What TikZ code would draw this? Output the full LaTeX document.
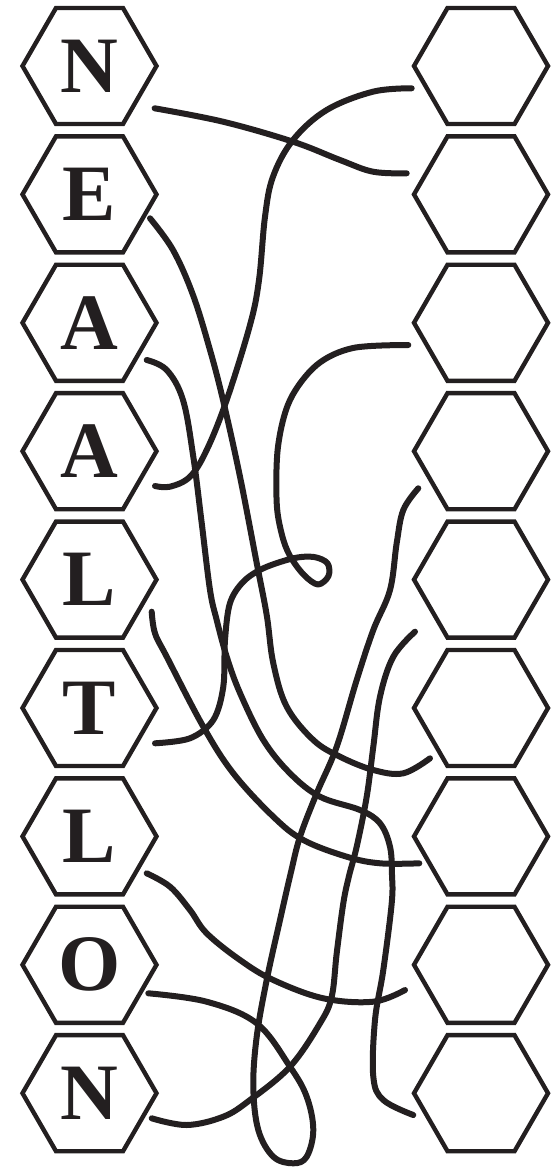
\documentclass[tikz,border=0pt]{standalone}
\usepackage{fontspec}
\setmainfont{Liberation Serif}
\usepackage{tikz}
\usetikzlibrary{shapes.geometric}
\definecolor{ink}{HTML}{231F20}

\begin{document}
\begin{tikzpicture}[
  x=1pt, y=-1pt,
  hexcell/.style={regular polygon, regular polygon sides=6, minimum size=134pt,
                  inner sep=0pt, draw=ink, line width=4.4pt, text=ink,
                  font=\fontsize{80}{80}\selectfont\bfseries},
  wire/.style={draw=ink, line width=6pt, line cap=round, line join=round},
]
\useasboundingbox (0,0) rectangle (552,1169);
% ---- letter column (left)
\node[hexcell] (n1) at (89.5, 66.0) {N};
\node[hexcell] (e2) at (89.5, 194.4) {E};
\node[hexcell] (a3) at (89.5, 322.8) {A};
\node[hexcell] (a4) at (89.5, 451.2) {A};
\node[hexcell] (l5) at (89.5, 579.6) {L};
\node[hexcell] (t6) at (89.5, 708.0) {T};
\node[hexcell] (l7) at (89.5, 836.4) {L};
\node[hexcell] (o8) at (89.5, 964.8) {O};
\node[hexcell] (n9) at (89.5, 1093.2) {N};
% ---- answer column (right), left empty
\node[hexcell] (s1) at (481, 66.0) {};
\node[hexcell] (s2) at (481, 194.4) {};
\node[hexcell] (s3) at (481, 322.8) {};
\node[hexcell] (s4) at (481, 451.2) {};
\node[hexcell] (s5) at (481, 579.6) {};
\node[hexcell] (s6) at (481, 708.0) {};
\node[hexcell] (s7) at (481, 836.4) {};
\node[hexcell] (s8) at (481, 964.8) {};
\node[hexcell] (s9) at (481, 1093.2) {};
% ---- loose ends of the strings
\coordinate (n1w) at (154.6, 108.3);  \coordinate (s2w) at (406.7, 173.3);
\coordinate (e2w) at (150.0, 218.3);  \coordinate (s6w) at (430.0, 758.3);
\coordinate (a3w) at (146.7, 360.0);  \coordinate (s9w) at (413.3, 1115.0);
\coordinate (a4w) at (155.0, 486.0);  \coordinate (s1w) at (411.7, 88.3);
\coordinate (l5w) at (151.7, 611.7);  \coordinate (s7w) at (419.3, 863.3);
\coordinate (t6w) at (155.0, 743.3);  \coordinate (s3w) at (408.3, 345.0);
\coordinate (l7w) at (146.7, 873.3);  \coordinate (s8w) at (405.0, 990.0);
\coordinate (o8w) at (148.3, 993.3);  \coordinate (s4w) at (418.3, 488.3);
\coordinate (n9w) at (151.7, 1118.3); \coordinate (s5w) at (415.0, 631.7);
% ---- strings: N->2, E->6, A->9, A->1, L->7, T->3, L->8, O->4, N->5
\draw[wire] plot[smooth, tension=0.6] coordinates {(n1w) (223,121.7) (293,141.7)
  (340,160) (373,171.7) (s2w)};
\draw[wire] plot[smooth, tension=0.6] coordinates {(s1w) (373,91.7) (326.7,110)
  (293,140) (273,176.7) (265,216.7) (259,280) (250,325) (226.7,400) (206.7,450)
  (190,476.7) (170,486.7) (a4w)};
\draw[wire] plot[smooth, tension=0.6] coordinates {(e2w) (173,250) (193,295)
  (210,350) (223,400) (240,476.7) (256.7,563) (266.7,615) (273.3,663.3)
  (286.7,706.7) (313.3,740) (340,756.7) (373.3,770) (403.3,773.3) (s6w)};
\draw[wire] plot[smooth, tension=0.6] coordinates {(a3w) (166.7,370) (183,400)
  (193.3,456.7) (201.7,523) (210,590) (216.7,620) (226.7,656.7) (240,693)
  (263.3,740) (290,773.3) (320,796.7) (360,810) (380,823.3) (390,846.7)
  (392,875) (391.7,903.3) (383.3,970) (375,1020) (373.3,1076.7) (383.3,1100) (s9w)};
\draw[wire] plot[smooth, tension=0.55] coordinates {(s3w) (353,348) (316.7,365)
  (290,400) (278,446.7) (276.7,503) (282,535) (290,556) (304,575)
  (318,584.5) (328.5,576) (327.5,563.3) (314,557) (293.3,558.3) (263.3,568.3)
  (243.3,581.7) (230,603) (225,640) (223.3,686.7) (213.3,720) (190,738.3) (t6w)};
\draw[wire] plot[smooth, tension=0.6] coordinates {(s4w) (403.3,510) (396.7,543)
  (390,590) (373.3,630) (356.7,680) (336.7,746.7) (316.7,793.3) (300,836.7)
  (291,872) (280,920) (266.7,980) (256.7,1036.7) (253.3,1086.7) (258.3,1130)
  (273.3,1156.7) (293.3,1163.3) (306.7,1156.7) (313.3,1130) (306.7,1096.7)
  (290,1066.7) (256.7,1023.3) (206.7,1001.7) (o8w)};
\draw[wire] plot[smooth, tension=0.6] coordinates {(n9w) (186.7,1125) (223.3,1116.7)
  (250,1100) (290,1066.7) (320,1023.3) (331.7,996.7) (336.7,953.3) (343.3,903.3)
  (349,876) (356.7,846.7) (366.7,796.7) (373.3,746.7) (380,696.7) (393.3,656.7) (s5w)};
\draw[wire] plot[smooth, tension=0.6] coordinates {(l5w) (155,633.3) (166.7,656.7)
  (203.3,726.7) (233.3,773.3) (273.3,816.7) (303.3,840) (346.7,856.7) (380,863.3) (s7w)};
\draw[wire] plot[smooth, tension=0.6] coordinates {(l7w) (170,886.7) (190,910)
  (206.7,933.3) (240,960) (273.3,980) (323.3,998.3) (373.3,1001.7) (s8w)};
\end{tikzpicture}
\end{document}
